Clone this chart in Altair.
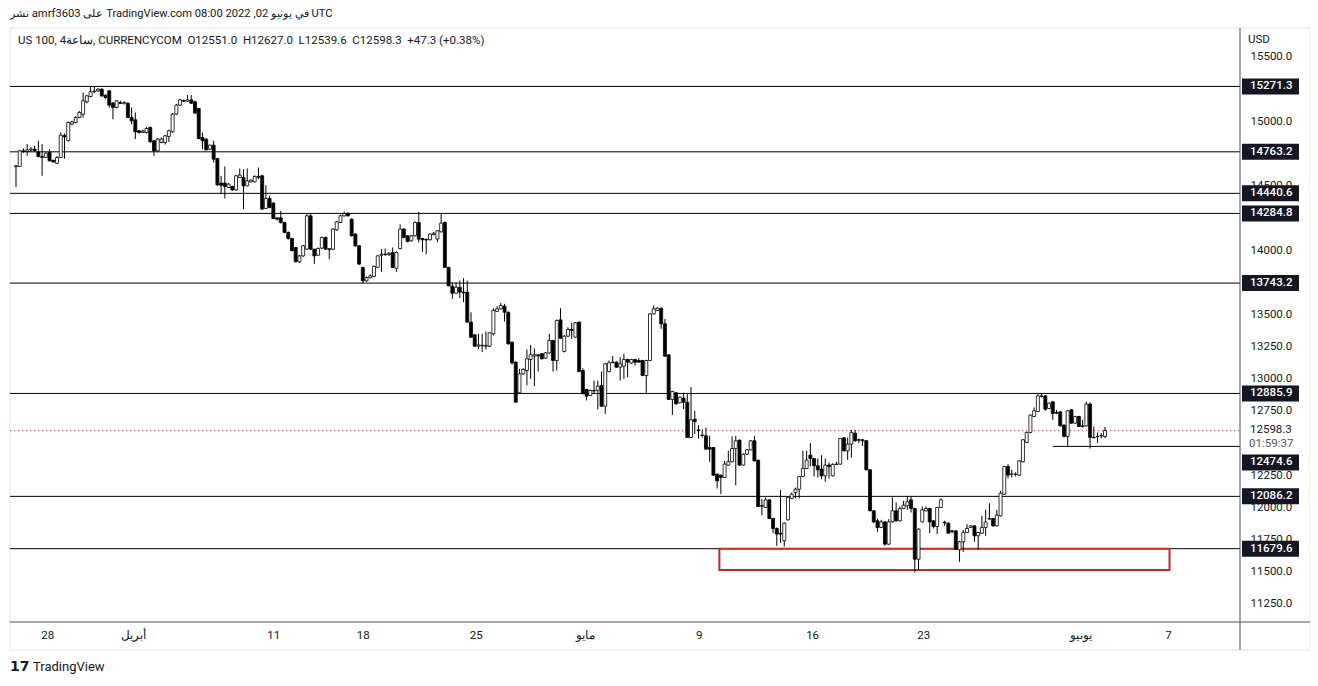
import altair as alt
import pandas as pd

# ---------------- candle data (US 100, 4h) ----------------
opens = [
    14648, 14650, 14771, 14766, 14778, 14784, 14763, 14727, 14720, 14758,
    14698, 14675, 14719, 14890, 14849, 14978, 14991, 15030, 15056, 15152,
    15193, 15230, 15237, 15250, 15203, 15237, 15141, 15108, 15147, 15140,
    15141, 15030, 15012, 14927, 14914, 14914, 14952, 14849, 14771, 14836,
    14836, 14883, 14919, 15056, 15126, 15162, 15157, 15167, 15152, 15100,
    14875, 14862, 14784, 14815, 14711, 14520, 14520, 14486, 14494, 14468,
    14564, 14564, 14499, 14530, 14530, 14572, 14577, 14323, 14401, 14365,
    14250, 14250, 14214, 14137, 14090, 14020, 13909, 13955, 14007, 14266,
    14007, 13960, 14015, 14098, 14010, 14007, 14158, 14214, 14266, 14284,
    14240, 14124, 14033, 13865, 13761, 13785, 13795, 13865, 13960, 13968,
    13965, 13981, 13858, 14012, 14163, 14111, 14072, 14111, 14214, 14090,
    14083, 14080, 14120, 14085, 14142, 14214, 13865, 13719, 13665, 13711,
    13673, 13673, 13440, 13341, 13253, 13260, 13253, 13253, 13349, 13523,
    13543, 13564, 13517, 13284, 13129, 12891, 13038, 13064, 13150, 13176,
    13186, 13194, 13160, 13201, 13297, 13142, 13458, 13212, 13331, 13383,
    13323, 13440, 13064, 12917, 12870, 12909, 12909, 12948, 12787, 13056,
    13129, 13129, 13090, 13098, 13150, 13122, 13150, 13142, 13142, 13025,
    13142, 13504, 13530, 13548, 13427, 13186, 12839, 12891, 12813, 12849,
    12818, 12544, 12686, 12603, 12562, 12557, 12466, 12466, 12259, 12251,
    12233, 12329, 12355, 12458, 12523, 12329, 12414, 12448, 12518, 12367,
    12013, 12000, 12059, 11914, 11837, 11800, 11741, 11904, 12070, 12116,
    12142, 12241, 12303, 12406, 12380, 12324, 12298, 12246, 12329, 12246,
    12334, 12337, 12541, 12440, 12492, 12577, 12526, 12526, 12518, 12293,
    11974, 11896, 11844, 11888, 11715, 11888, 11974, 11896, 11992, 12013,
    12059, 11992, 11598, 11888, 11974, 11992, 11896, 11852, 12000, 11885,
    11878, 11818, 11818, 11671, 11733, 11806, 11845, 11857, 11780, 11800,
    11845, 11910, 11914, 11857, 11935, 12103, 12318, 12259, 12259, 12251,
    12355, 12505, 12583, 12707, 12746, 12862, 12867, 12769, 12821, 12738,
    12743, 12640, 12552, 12759, 12655, 12707, 12634, 12634, 12803, 12544,
    12552, 12557, 12551.0,
]
highs = [
    14660, 14779, 14790, 14823, 14800, 14810, 14849, 14823, 14760, 14784,
    14700, 14730, 14914, 14905, 15000, 15005, 15040, 15080, 15224, 15205,
    15271, 15271, 15258, 15258, 15210, 15240, 15150, 15165, 15160, 15155,
    15147, 15108, 15069, 14930, 14935, 14955, 14960, 14855, 14870, 14875,
    14895, 14935, 15065, 15135, 15175, 15170, 15204, 15204, 15160, 15105,
    14914, 14870, 14820, 14849, 14715, 14577, 14650, 14520, 14500, 14585,
    14634, 14629, 14634, 14550, 14580, 14642, 14585, 14504, 14422, 14370,
    14255, 14305, 14220, 14145, 14095, 14025, 13960, 14040, 14279, 14279,
    14010, 14020, 14105, 14105, 14015, 14170, 14225, 14275, 14300, 14295,
    14245, 14130, 14040, 13870, 13795, 13810, 13880, 13960, 14007, 14012,
    13985, 14020, 13990, 14200, 14170, 14115, 14118, 14222, 14297, 14095,
    14090, 14130, 14140, 14155, 14279, 14222, 13870, 13750, 13750, 13763,
    13781, 13763, 13517, 13345, 13349, 13349, 13367, 13362, 13548, 13564,
    13590, 13582, 13522, 13290, 13135, 13077, 13082, 13227, 13263, 13237,
    13190, 13200, 13207, 13349, 13302, 13460, 13548, 13340, 13401, 13435,
    13440, 13445, 13082, 12922, 12915, 12986, 12986, 13056, 13122, 13142,
    13176, 13135, 13168, 13194, 13155, 13155, 13155, 13160, 13147, 13147,
    13510, 13569, 13555, 13553, 13466, 13190, 12906, 12896, 12862, 12891,
    12880, 12935, 12751, 12640, 12608, 12621, 12557, 12470, 12265, 12255,
    12362, 12440, 12552, 12557, 12528, 12420, 12455, 12525, 12557, 12372,
    12065, 12078, 12065, 11920, 11845, 12135, 11885, 12085, 12116, 12155,
    12245, 12440, 12440, 12500, 12385, 12380, 12406, 12380, 12350, 12344,
    12355, 12541, 12547, 12544, 12603, 12603, 12536, 12530, 12523, 12298,
    11980, 11914, 11904, 11893, 11909, 12078, 12039, 12008, 12052, 12090,
    12085, 11998, 11837, 12008, 12008, 11998, 11900, 12005, 12070, 11896,
    11883, 11826, 11823, 11740, 11826, 11870, 11863, 11863, 11811, 11935,
    11982, 12033, 11920, 11982, 12129, 12324, 12337, 12293, 12272, 12370,
    12531, 12590, 12722, 12777, 12880, 12888, 12872, 12815, 12826, 12759,
    12748, 12645, 12756, 12764, 12712, 12712, 12681, 12823, 12816, 12629,
    12583, 12577, 12627.0,
]
lows = [
    14490, 14645, 14755, 14732, 14760, 14763, 14720, 14577, 14715, 14690,
    14680, 14670, 14715, 14710, 14845, 14970, 14985, 15025, 15030, 15140,
    15185, 15219, 15230, 15190, 15175, 15108, 15017, 15100, 15135, 15130,
    15025, 14978, 14862, 14905, 14910, 14905, 14836, 14732, 14760, 14830,
    14820, 14840, 14910, 15050, 15120, 15150, 15150, 15135, 15060, 14860,
    14784, 14775, 14778, 14680, 14500, 14434, 14400, 14480, 14460, 14460,
    14560, 14318, 14495, 14525, 14525, 14551, 14315, 14318, 14325, 14240,
    14230, 14205, 14130, 14080, 13990, 13905, 13900, 13945, 14000, 14000,
    13891, 13955, 14010, 14000, 13929, 14000, 14150, 14210, 14260, 14260,
    14105, 14025, 13885, 13743, 13755, 13780, 13790, 13860, 13830, 13955,
    13955, 13860, 13830, 14005, 14090, 14060, 14065, 14105, 14059, 13986,
    13968, 14075, 14115, 14060, 14135, 13860, 13718, 13621, 13660, 13626,
    13595, 13435, 13318, 13248, 13232, 13207, 13227, 13248, 13336, 13518,
    13538, 13445, 13265, 13111, 12815, 12885, 13030, 12948, 12999, 12943,
    13056, 13150, 13155, 13195, 13056, 13064, 13310, 13205, 13325, 13310,
    13318, 13050, 12880, 12831, 12865, 12890, 12761, 12780, 12727, 13050,
    13120, 13085, 12986, 12999, 13012, 13115, 13103, 13125, 13020, 12891,
    13137, 13500, 13525, 13388, 13170, 12835, 12719, 12800, 12808, 12764,
    12540, 12540, 12570, 12536, 12544, 12448, 12355, 12245, 12147, 12103,
    12228, 12325, 12350, 12173, 12325, 12325, 12410, 12443, 12357, 12003,
    11940, 11995, 11909, 11800, 11702, 11723, 11697, 11898, 12065, 12070,
    12070, 12235, 12298, 12318, 12241, 12233, 12220, 12199, 12225, 12240,
    12329, 12332, 12435, 12370, 12388, 12512, 12500, 12479, 12288, 11970,
    11878, 11811, 11840, 11702, 11710, 11883, 11890, 11890, 11987, 11982,
    11961, 11495, 11516, 11883, 11970, 11800, 11837, 11793, 11995, 11857,
    11795, 11800, 11670, 11578, 11655, 11800, 11840, 11733, 11671, 11795,
    11780, 11905, 11850, 11850, 11930, 12098, 12225, 12233, 12241, 12246,
    12350, 12500, 12578, 12702, 12740, 12855, 12751, 12764, 12681, 12725,
    12629, 12545, 12479, 12650, 12650, 12624, 12621, 12629, 12458, 12538,
    12500, 12536, 12539.6,
]
closes = [
    14655, 14771, 14766, 14778, 14784, 14773, 14727, 14720, 14753, 14693,
    14685, 14719, 14893, 14880, 14991, 14996, 15030, 15069, 15160, 15198,
    15230, 15235, 15250, 15198, 15185, 15126, 15108, 15160, 15140, 15147,
    15030, 15004, 14919, 14914, 14924, 14945, 14841, 14771, 14862, 14862,
    14888, 14927, 15056, 15126, 15167, 15157, 15167, 15141, 15064, 14867,
    14849, 14779, 14815, 14706, 14507, 14504, 14494, 14512, 14468, 14577,
    14582, 14499, 14538, 14543, 14572, 14566, 14318, 14401, 14331, 14245,
    14240, 14214, 14137, 14090, 13995, 13909, 13955, 14033, 14266, 14007,
    13955, 14012, 14098, 14007, 14005, 14163, 14219, 14266, 14284, 14266,
    14111, 14033, 13891, 13761, 13787, 13800, 13873, 13955, 13968, 13965,
    13975, 13865, 13981, 14163, 14098, 14067, 14111, 14214, 14085, 14080,
    14078, 14124, 14130, 14150, 14209, 13865, 13722, 13665, 13711, 13673,
    13668, 13440, 13323, 13253, 13263, 13256, 13258, 13357, 13530, 13543,
    13569, 13517, 13271, 13124, 12818, 13038, 13072, 13155, 13186, 13186,
    13178, 13155, 13201, 13297, 13142, 13453, 13315, 13331, 13383, 13375,
    13435, 13056, 12883, 12865, 12909, 12905, 12943, 12787, 13116, 13124,
    13126, 13090, 13116, 13150, 13129, 13150, 13129, 13129, 13025, 13142,
    13504, 13543, 13548, 13427, 13176, 12839, 12901, 12805, 12857, 12818,
    12544, 12681, 12666, 12596, 12560, 12453, 12453, 12251, 12207, 12233,
    12337, 12355, 12458, 12518, 12329, 12414, 12448, 12518, 12362, 12008,
    12010, 12059, 11914, 11837, 11793, 11793, 11878, 12078, 12103, 12142,
    12241, 12303, 12368, 12380, 12324, 12292, 12246, 12329, 12319, 12334,
    12337, 12536, 12440, 12492, 12583, 12518, 12523, 12518, 12293, 11974,
    11888, 11844, 11888, 11715, 11888, 11974, 11896, 11992, 12018, 12044,
    11992, 11598, 11832, 11982, 11992, 11888, 11852, 12000, 12059, 11880,
    11800, 11812, 11676, 11733, 11806, 11837, 11857, 11780, 11806, 11845,
    11888, 11914, 11857, 11940, 12111, 12318, 12251, 12259, 12257, 12362,
    12526, 12583, 12717, 12751, 12867, 12867, 12764, 12810, 12730, 12733,
    12634, 12552, 12751, 12655, 12707, 12629, 12629, 12803, 12544, 12542,
    12550, 12557, 12598.3,
]

# ---------------- drawings / scale values ----------------
level_prices = [15271.3, 14763.2, 14440.6, 14284.8, 13743.2, 12885.9, 12086.2, 11679.6]
ray_price = 12474.6
ray_start_bar = 278
last_price = 12598.3
countdown = "01:59:37"
zone_bars = [188.6, 309.3]
zone_prices = [11679.6, 11515.0]

# price-scale label boxes: value shown and how far (px) the label was pushed down to avoid overlap
box_values = level_prices + [ray_price]
box_shift_px = [0, 0, 0, 0, 0, 0, 0, 0, 16]

price_ticks = [11250, 11500, 11750, 12000, 12250, 12750, 13000, 13250, 13500,
               14000, 14500, 15000, 15500]
time_tick_bars = [8.5, 31.6, 69.1, 93.1, 123.4, 152.7, 183.2, 213.6, 243.4, 285.5, 309.0]
time_tick_labels = ["28", "أبريل", "11", "18", "25", "مايو", "9", "16", "23", "يونيو", "7"]

header_text = "نشر amrf3603 على TradingView.com في يونيو 02, 2022 08:00 UTC"
legend_text = ("US 100, 4ساعة, CURRENCYCOM \u00a0O12551.0 \u00a0H12627.0 \u00a0L12539.6"
               " \u00a0C12598.3 \u00a0+47.3 (+0.38%)")

# ---------------- layout ----------------
W, H = 1230, 594
FONT = "Roboto"
TXT = "#131722"
Y_DOMAIN = [11110.1, 15725.3]
UPP = (Y_DOMAIN[1] - Y_DOMAIN[0]) / H  # price units per pixel

n = len(closes)
candles = pd.DataFrame({
    "bar": list(range(n)),
    "o": opens,
    "c": closes,
    "h": [max(a, b, c) for a, b, c in zip(highs, opens, closes)],
    "l": [min(a, b, c) for a, b, c in zip(lows, opens, closes)],
})
candles["dir"] = ["up" if c >= o else "down" for o, c in zip(opens, closes)]

xs = alt.Scale(domain=[-0.266, 326.86], nice=False, zero=False)
ys = alt.Scale(domain=Y_DOMAIN, nice=False, zero=False)
Y_AXIS = alt.Axis(orient="right", values=price_ticks, format=".1f", ticks=False,
                  domain=False, grid=False, labelPadding=10, labelFont=FONT,
                  labelFontSize=11.5, labelColor=TXT, labelAlign="left",
                  labelOverlap=False, labelFlush=False, title=None)


def Y(field):
    return alt.Y(field, scale=ys, axis=Y_AXIS, title=None)


one = pd.DataFrame({"a": [0]})

frame = alt.Chart(one).mark_rect(fillOpacity=0, stroke="#e0e3eb", strokeWidth=1).encode(
    x=alt.value(0), x2=alt.value(1300), y=alt.value(0), y2=alt.value(622))

vline = alt.Chart(one).mark_rule(color="#50535e", strokeWidth=1).encode(
    x=alt.value(W), y=alt.value(0), y2=alt.value(622))
hline = alt.Chart(one).mark_rule(color="#50535e", strokeWidth=1).encode(
    x=alt.value(0), x2=alt.value(1300), y=alt.value(H))

levels_df = pd.DataFrame({"price": level_prices})
levels = alt.Chart(levels_df).mark_rule(color="#000000", strokeWidth=1).encode(
    y=Y("price:Q"), x=alt.value(0), x2=alt.value(W))

ray_df = pd.DataFrame({"price": [ray_price], "start": [ray_start_bar]})
ray = alt.Chart(ray_df).mark_rule(color="#000000", strokeWidth=1).encode(
    y=Y("price:Q"), x=alt.X("start:Q", scale=xs, axis=None), x2=alt.value(W))

last_df = pd.DataFrame({"price": [last_price]})
last_line = alt.Chart(last_df).mark_rule(color="#f23645", strokeWidth=1, strokeDash=[1, 3]).encode(
    y=Y("price:Q"), x=alt.value(0), x2=alt.value(W))

zone_df = pd.DataFrame({"x0": [zone_bars[0]], "x1": [zone_bars[1]],
                        "p0": [zone_prices[0]], "p1": [zone_prices[1]]})
zone = alt.Chart(zone_df).mark_rect(fillOpacity=0, stroke="#c62828", strokeWidth=2).encode(
    x=alt.X("x0:Q", scale=xs, axis=None), x2="x1:Q", y=Y("p0:Q"), y2="p1:Q")

wicks = alt.Chart(candles).mark_rule(color="#000000", strokeWidth=1).encode(
    x=alt.X("bar:Q", scale=xs, axis=None), y=Y("l:Q"), y2="h:Q")

bodies = alt.Chart(candles).mark_bar(size=3, stroke="#000000", strokeWidth=0.8).encode(
    x=alt.X("bar:Q", scale=xs, axis=None),
    y=Y("o:Q"),
    y2="c:Q",
    fill=alt.Fill("dir:N", scale=alt.Scale(domain=["up", "down"], range=["#ffffff", "#000000"]),
                  legend=None),
)

box_df = pd.DataFrame({"price": box_values, "shift": box_shift_px})
boxes = alt.Chart(box_df).transform_calculate(
    top=f"datum.price - (datum.shift - 8) * {UPP}",
    bot=f"datum.price - (datum.shift + 8) * {UPP}",
).mark_rect(fill="#131722").encode(
    x=alt.value(1232), x2=alt.value(1289), y=Y("top:Q"), y2="bot:Q")
box_text = alt.Chart(box_df).transform_calculate(
    pos=f"datum.price - datum.shift * {UPP}"
).mark_text(
    align="left", baseline="middle", font=FONT, fontSize=11.5, color="#ffffff", fontWeight=500
).encode(x=alt.value(1240), y=Y("pos:Q"), text=alt.Text("price:Q", format=".1f"))

last_text = alt.Chart(last_df).mark_text(
    align="left", baseline="middle", font=FONT, fontSize=11.5, color=TXT
).encode(x=alt.value(1240), y=Y("price:Q"), text=alt.Text("price:Q", format=".1f"))
cd_text = alt.Chart(last_df).mark_text(
    align="left", baseline="middle", font=FONT, fontSize=11.5, color="#50535e", dy=14
).encode(x=alt.value(1239), y=Y("price:Q"), text=alt.value(countdown))

time_df = pd.DataFrame({"bar": time_tick_bars, "label": time_tick_labels})
time_text = alt.Chart(time_df).mark_text(
    align="center", baseline="middle", font=FONT, fontSize=11.5, color=TXT
).encode(x=alt.X("bar:Q", scale=xs, axis=None), y=alt.value(H + 14), text="label:N")


def label(txt, x, y, size=11.5, color=TXT, weight="normal", font=FONT):
    return alt.Chart(one).mark_text(
        align="left", baseline="middle", font=font, fontSize=size, color=color, fontWeight=weight
    ).encode(x=alt.value(x), y=alt.value(y), text=alt.value(txt))


header = label(header_text, 0, -14, size=11.2)
legend = label(legend_text, 8, 13, size=11.5)
usd = label("USD", 1238, 12)
logo_mark = label("17", 0, 639, size=14, weight="bold", font="DejaVu Sans")
logo_text = label("TradingView", 23, 639, size=13)

chart = alt.layer(
    frame, levels, ray, last_line, zone, wicks, bodies, vline, hline,
    boxes, box_text, last_text, cd_text, time_text, header, legend, usd, logo_mark, logo_text,
).properties(
    width=W, height=H,
    padding={"left": 2, "top": 20, "right": 70, "bottom": 54},
    autosize=alt.AutoSizeParams(type="none"),
    background="white",
).configure_view(stroke=None)

chart.save("out.html", embed_options={"renderer": "svg", "actions": False})
